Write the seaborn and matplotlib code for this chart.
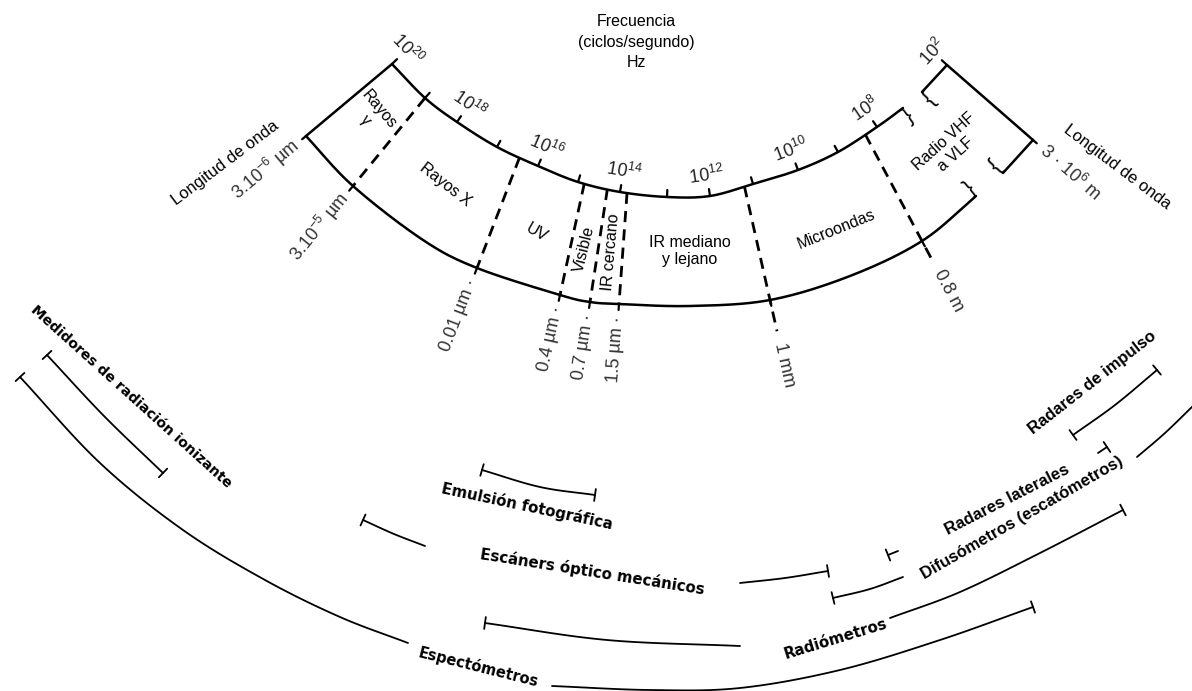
import matplotlib
import matplotlib.pyplot as plt
import numpy as np
import seaborn as sns

matplotlib.use("Agg")
sns.set_theme(style="white")
plt.rcParams["font.family"] = ["Liberation Sans", "DejaVu Sans"]
plt.rcParams["text.color"] = "black"
plt.rcParams["mathtext.fontset"] = "custom"
plt.rcParams["mathtext.rm"] = "Liberation Sans"
plt.rcParams["mathtext.it"] = "Liberation Sans:italic"

# Arco superior: frecuencia (exponente de 10) y su lugar en el dibujo
frec_exp = [20, 19, 18, 17, 16, 15, 14, 13, 12, 11, 10, 9, 8]
frec_x = [392, 425, 457, 497, 538, 578, 620, 667, 710, 753, 798, 838, 877]
frec_y = [64, 98, 122, 147, 166, 182, 192, 197, 196, 184, 170, 152, 127]
frec_etiq = [20, 18, 16, 14, 12, 10, 8]
frec_fin = (903, 108)

# tramo de radio (10^8 .. 10^2), cortado
radio_sup = [(922, 92), (947, 65)]
radio_borde = [(947, 65), (1033, 140)]
radio_inf = [(1033, 140), (1003, 173)]

# Arco inferior: longitud de onda
onda_x = [306, 353, 423, 477, 560, 590, 619, 690, 770, 850, 922, 976]
onda_y = [136, 186, 240, 268, 295, 302, 304, 306, 300, 276, 241, 196]

# límites entre regiones: exponente en el arco superior, punto del arco inferior
limite_exp = [19, 16.45, 14.85, 14.3, 13.85, 11.2, 8.3]
limite_onda = [1, 3, 4, 5, 6, 8, 10]
limite_etiq = ["3.10$^{-5}$ µm", "0.01 µm ·", "0.4 µm ·", "0.7 µm ·", "1.5 µm ·", "1 mm", "0.8 m"]
limite_prolonga = [0, 0, 0, 0, 0, 32, 22]

regiones = ["Rayos\nγ", "Rayos X", "UV", "Visible", "IR cercano", "IR mediano\ny lejano",
            "Microondas", "Radio VHF\na VLF"]

# Instrumentos: tramos visibles de cada barra
medidores = [[(47, 355), (104, 416), (163, 473)]]
espectometros = [[(20, 377), (100, 463), (183, 530), (265, 580), (340, 617), (408, 643)],
                 [(552, 686), (650, 690), (740, 688), (840, 670), (940, 640), (1033, 607)]]
escaners = [[(363, 520), (394, 534), (425, 546)], [(740, 583), (785, 578), (828, 571)]]
emulsion = [[(482, 470), (540, 487), (595, 495)]]
radiometros = [[(485, 623), (607, 640), (740, 646)],
               [(890, 618), (960, 592), (1040, 553), (1123, 510)]]
difusometros = [[(833, 598), (870, 589), (903, 577)], [(1137, 457), (1165, 433), (1194, 405)]]
radares_lat = [[(888, 555), (898, 551)], [(1098, 453), (1107, 447)]]
radares_imp = [[(1073, 435), (1115, 405), (1157, 370)]]

instrumentos = ["Medidores de radiación ionizante", "Espectómetros", "Escáners óptico mecánicos",
                "Emulsión fotográfica", "Radiómetros", "Difusómetros (escatómetros)",
                "Radares laterales", "Radares de impulso"]
barras = [medidores, espectometros, escaners, emulsion, radiometros, difusometros,
          radares_lat, radares_imp]
tope_final = [True, True, True, True, True, False, True, True]


def suave(pts, n=20):
    p = np.asarray(pts, float)
    if len(p) < 3:
        return p
    p = np.vstack([2 * p[0] - p[1], p, 2 * p[-1] - p[-2]])
    t = np.linspace(0, 1, n, endpoint=False)[:, None]
    out = []
    for i in range(1, len(p) - 2):
        p0, p1, p2, p3 = p[i - 1], p[i], p[i + 1], p[i + 2]
        out.append(0.5 * (2 * p1 + (-p0 + p2) * t + (2 * p0 - 5 * p1 + 4 * p2 - p3) * t ** 2
                          + (-p0 + 3 * p1 - 3 * p2 + p3) * t ** 3))
    out.append(p[-2][None])
    return np.vstack(out)


def linea(ax, pts, lw=1.8, **kw):
    c = suave(pts)
    sns.lineplot(x=c[:, 0], y=c[:, 1], sort=False, estimator=None, color="black",
                 lw=lw, ax=ax, **kw)


def unit(v):
    v = np.asarray(v, float)
    return v / np.hypot(*v)


def ang(v):
    return np.degrees(np.arctan2(-v[1], v[0]))


def tang(pts, i):
    j0, j1 = max(i - 1, 0), min(i + 1, len(pts) - 1)
    return unit(np.subtract(pts[j1], pts[j0]))


fig = plt.figure(figsize=(11.92, 6.91), dpi=100)
ax = fig.add_axes([0, 0, 1, 1])

# ---- banda del espectro
sup = list(zip(frec_x, frec_y)) + [frec_fin]
inf = list(zip(onda_x, onda_y))
linea(ax, sup)
linea(ax, inf)
linea(ax, [sup[0], inf[0]])
for tramo in [radio_sup, radio_borde, radio_inf]:
    linea(ax, tramo)

# marcas y etiquetas de frecuencia
for i, e in enumerate(frec_exp):
    p = np.array(sup[i], float)
    t = tang(sup, i)
    n = np.array([t[1], -t[0]])
    ax.plot(*zip(p, p + n * 7), color="black", lw=1.6)
    if e in frec_etiq:
        q = p + n * 21
        ax.text(q[0], q[1], r"$\mathit{10^{%d}}$" % e, rotation=ang(t), fontsize=13,
                ha="center", va="center", rotation_mode="anchor", color="#222222")
t = unit(np.subtract(radio_sup[1], radio_sup[0]))
n = np.array([t[1], -t[0]])
p = np.array(radio_sup[1], float)
ax.plot(*zip(p, p + n * 7), color="black", lw=1.6)
q = p + n * 19
ax.text(q[0], q[1], r"$\mathit{10^{2}}$", rotation=ang(t), fontsize=13, ha="center",
        va="center", rotation_mode="anchor", color="#222222")

# cortes
cortes = [(frec_fin, unit(np.subtract(frec_fin, sup[-2])), "}", 1),
          (radio_sup[0], unit(np.subtract(radio_sup[1], radio_sup[0])), "{", 1),
          (inf[-1], unit(np.subtract(inf[-1], inf[-2])), "}", -1),
          (radio_inf[1], unit(np.subtract(radio_inf[0], radio_inf[1])), "{", -1)]
for p, t, g, s in cortes:
    n = np.array([-t[1], t[0]]) * s
    q = np.array(p, float) + n * 10
    ax.text(q[0], q[1], g, rotation=ang(t), fontsize=16, ha="center", va="center",
            rotation_mode="anchor")

# límites entre regiones
xs_top = np.interp([-e for e in limite_exp], [-e for e in frec_exp], frec_x)
ys_top = np.interp([-e for e in limite_exp], [-e for e in frec_exp], frec_y)
for k in range(len(limite_exp)):
    a = np.array([xs_top[k], ys_top[k]])
    b = np.array(inf[limite_onda[k]], float)
    d = unit(b - a)
    b2 = b + d * limite_prolonga[k]
    ax.plot([a[0], b2[0]], [a[1], b2[1]], color="black", lw=2, ls=(0, (4, 2.6)))
    ax.plot(*zip(b, b + d * 6), color="black", lw=1.6)
    q = b2 + d * 12
    if d[0] < 0:
        ax.text(q[0], q[1], limite_etiq[k], rotation=ang(-d), fontsize=13, ha="right",
                va="center", rotation_mode="anchor", color="#333333")
    else:
        ax.text(q[0], q[1], limite_etiq[k], rotation=ang(d), fontsize=13, ha="left",
                va="center", rotation_mode="anchor", color="#333333")

# extremos en longitud de onda
d = unit(np.subtract(inf[0], sup[0]))
q = np.array(inf[0], float) + d * 12
ax.plot(*zip(inf[0], np.array(inf[0]) + d * 5), color="black", lw=1.6)
ax.text(q[0], q[1], "3.10$^{-6}$ µm", rotation=ang(-d), fontsize=13, ha="right",
        va="center", rotation_mode="anchor", color="#333333")
ax.text(225, 163, "Longitud de onda", rotation=37, fontsize=12, ha="center", va="center",
        rotation_mode="anchor")
d = unit(np.subtract(radio_borde[1], radio_borde[0]))
q = np.array(radio_borde[1], float) + d * 12
ax.plot(*zip(radio_borde[1], np.array(radio_borde[1]) + d * 5), color="black", lw=1.6)
ax.text(q[0], q[1], "3 · 10$^{6}$ m", rotation=ang(d), fontsize=13, ha="left",
        va="center", rotation_mode="anchor", color="#333333")
ax.text(1117, 167, "Longitud de onda", rotation=-37, fontsize=12, ha="center",
        va="center", rotation_mode="anchor")

ax.text(636, 42, "Frecuencia\n(ciclos/segundo)\nHz", fontsize=11.5, ha="center",
        va="center", linespacing=1.45)

# nombres de las regiones
reg_x = [372, 445, 537, 584, 611, 690, 836, 950]
reg_y = [115, 185, 233, 249, 252, 251, 229, 148]
reg_rot = [-50, -38, -30, 76, 85, 0, 22, 42]
for nombre, x, y, r in zip(regiones, reg_x, reg_y, reg_rot):
    ax.text(x, y, nombre, rotation=r, fontsize=11.5, ha="center", va="center",
            rotation_mode="anchor", multialignment="center", linespacing=1.2)

# ---- instrumentos
for barra, tope in zip(barras, tope_final):
    for tramo in barra:
        linea(ax, tramo, lw=1.3)
    extremos = [(barra[0], 0)]
    if tope:
        extremos.append((barra[-1], -1))
    for tramo, i in extremos:
        t = tang(tramo, len(tramo) - 1 if i == -1 else 0)
        n = np.array([t[1], -t[0]])
        p = np.array(tramo[i], float)
        ax.plot(*zip(p - n * 6, p + n * 6), color="black", lw=1.3)

ins_x = [131, 478, 592, 527, 836, 1022, 1007, 1092]
ins_y = [397, 667, 572, 506, 639, 518, 500, 383]
ins_rot = [-42, -14, -9, -12, 17, 30, 27, 38]
ins_fuente = ["DejaVu Sans"] * 5 + ["Liberation Sans"] * 3
ins_tam = [10.2, 10.5, 10.8, 10.8, 10.8, 12, 12, 12]
for nombre, x, y, r, f, s in zip(instrumentos, ins_x, ins_y, ins_rot, ins_fuente, ins_tam):
    ax.text(x, y, nombre, rotation=r, fontsize=s, family=f, fontweight="bold", ha="center",
            va="center", rotation_mode="anchor")

ax.set_xlim(0, 1192)
ax.set_ylim(691, 0)
ax.axis("off")
fig.savefig("out.png", dpi=100, facecolor="white")
